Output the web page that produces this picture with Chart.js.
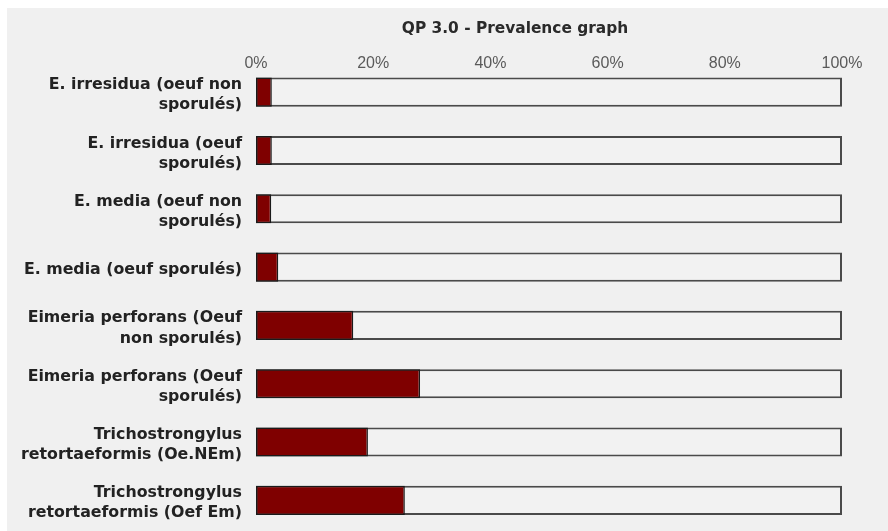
<!DOCTYPE html>
<html>
<head>
<meta charset="utf-8">
<script src="https://cdn.jsdelivr.net/npm/chart.js@4/dist/chart.umd.min.js"></script>
<style>
  html, body { margin: 0; padding: 0; background: #fff; }
  #wrap { position: absolute; left: 7px; top: 8px; width: 881px; height: 523px; background: #f0f0f0; }
</style>
</head>
<body>
<div id="wrap"><canvas id="chart" width="881" height="523"></canvas></div>
<script>
const categories = [
    ['E. irresidua (oeuf non', 'sporulés)'],
    ['E. irresidua (oeuf', 'sporulés)'],
    ['E. media (oeuf non', 'sporulés)'],
    'E. media (oeuf sporulés)',
    ['Eimeria perforans (Oeuf', 'non sporulés)'],
    ['Eimeria perforans (Oeuf', 'sporulés)'],
    ['Trichostrongylus', 'retortaeformis (Oe.NEm)'],
    ['Trichostrongylus', 'retortaeformis (Oef Em)']
];
// prevalence in %
const prevalence = [2.7, 2.7, 2.6, 3.8, 16.6, 28.0, 19.1, 25.4];
// full bar = 100%
const totals = [100, 100, 100, 100, 100, 100, 100, 100];
const tickLabels = ['0%', '20%', '40%', '60%', '80%', '100%'];
const chartTitle = 'QP 3.0 - Prevalence graph';

// title is centred a bit left of the plot, drawn by hand
const titlePlugin = {
    id: 'ownTitle',
    afterDraw(chart) {
        const ctx = chart.ctx;
        ctx.save();
        ctx.font = 'bold 15.4px "DejaVu Sans"';
        ctx.fillStyle = '#2a2a2a';
        ctx.textAlign = 'center';
        ctx.textBaseline = 'middle';
        ctx.fillText(chartTitle, 508, 21);
        ctx.restore();
    }
};

const ctx = document.getElementById('chart').getContext('2d');
new Chart(ctx, {
    type: 'bar',
    data: {
        labels: categories,
        datasets: [{
            data: prevalence,
            backgroundColor: '#7f0000',
            borderColor: '#1a1a1a',
            borderWidth: 1.5,
            borderSkipped: false,
            categoryPercentage: 0.5,
            barPercentage: 1
        }, {
            data: totals,
            backgroundColor: '#f2f2f2',
            borderColor: '#4a4a4a',
            borderWidth: 2,
            borderSkipped: false,
            categoryPercentage: 0.5,
            barPercentage: 1
        }]
    },
    options: {
        indexAxis: 'y',
        responsive: false,
        animation: false,
        layout: { padding: { top: 55, right: 46, bottom: 1.5, left: 0 } },
        scales: {
            x: {
                position: 'top',
                stacked: false,
                min: 0,
                max: 100,
                border: { display: false },
                grid: { display: false, drawTicks: false },
                afterFit(scale) { scale.height = 0; scale.paddingLeft = 0; scale.paddingRight = 0; },
                ticks: {
                    stepSize: 20,
                    mirror: true,
                    padding: -9,
                    color: '#5a5a5a',
                    font: { family: 'Liberation Sans', size: 16 },
                    callback: (v, i) => tickLabels[i]
                }
            },
            y: {
                stacked: true,
                border: { display: false },
                grid: { display: false, drawTicks: false },
                afterFit(scale) { scale.width = 249; scale.paddingTop = 0; scale.paddingBottom = 0; },
                ticks: {
                    padding: 14,
                    labelOffset: 3,
                    color: '#222',
                    font: { family: 'DejaVu Sans', size: 15.8, weight: 'bold', lineHeight: 1.27 }
                }
            }
        },
        plugins: {
            legend: { display: false },
            tooltip: { enabled: false }
        }
    },
    plugins: [titlePlugin]
});
</script>
</body>
</html>
